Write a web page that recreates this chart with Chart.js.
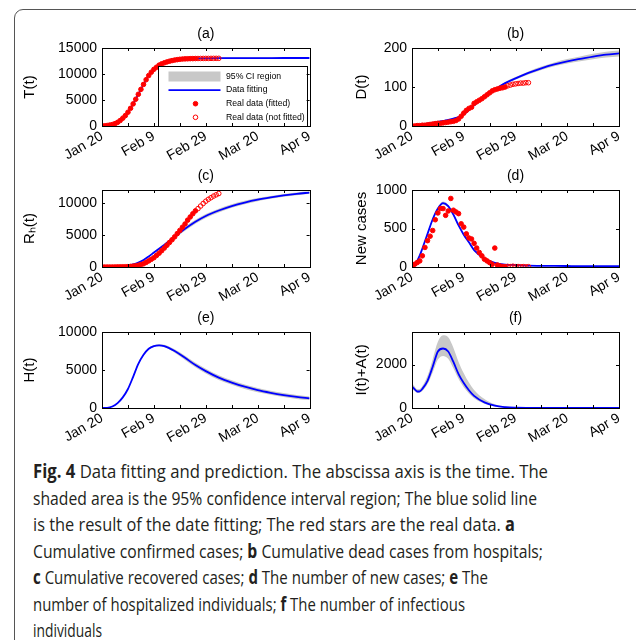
<!DOCTYPE html>
<html>
<head>
<meta charset="UTF-8">
<title>Fig. 4 Data fitting and prediction</title>
<script src="https://cdn.jsdelivr.net/npm/chart.js@4.4.1/dist/chart.umd.min.js"></script>
<style>
  body { margin: 0; width: 636px; height: 640px; overflow: hidden; position: relative; background: #fff; }
  .frame { position: absolute; left: 14px; top: 9px; width: 700px; height: 700px; border: 1px solid #555; border-radius: 9px; }
  canvas { position: absolute; }
  #caption { position: absolute; left: 33px; top: 458px; white-space: nowrap;
    font-family: "Open Sans", "Noto Sans", sans-serif; font-size: 19px; line-height: 26.5px; color: #231f20; }
  #caption span { display: inline-block; transform-origin: 0 0; }
  #caption b { font-weight: 700; }
</style>
</head>
<body>
<div class="frame"></div>
<canvas id="pa" width="306" height="141" style="left:14px;top:20px"></canvas>
<canvas id="pb" width="300" height="141" style="left:330px;top:20px"></canvas>
<canvas id="pc" width="306" height="140" style="left:14px;top:162px"></canvas>
<canvas id="pd" width="300" height="140" style="left:330px;top:162px"></canvas>
<canvas id="pe" width="306" height="139" style="left:14px;top:304px"></canvas>
<canvas id="pf" width="300" height="139" style="left:330px;top:304px"></canvas>
<div id="caption">
<div><span><b>Fig. 4</b> Data fitting and prediction. The abscissa axis is the time. The</span></div>
<div><span>shaded area is the 95% confidence interval region; The blue solid line</span></div>
<div><span>is the result of the date fitting; The red stars are the real data. <b>a</b></span></div>
<div><span>Cumulative confirmed cases; <b>b</b> Cumulative dead cases from hospitals;</span></div>
<div><span><b>c</b> Cumulative recovered cases; <b>d</b> The number of new cases; <b>e</b> The</span></div>
<div><span>number of hospitalized individuals; <b>f</b> The number of infectious</span></div>
<div><span>individuals</span></div>
</div>
<script>
// days since Jan 20
const dateLabels = ['Jan 20', 'Feb 9', 'Feb 29', 'Mar 20', 'Apr 9'];
const labelDays = [0, 20, 40, 60, 80];
const xTickDays = [0, 10, 20, 30, 40, 50, 60, 70, 80];
const fitDays = [0, 1, 2, 3, 4, 6, 8, 10, 12, 14, 16, 18, 20, 22, 24, 28, 32, 36, 40, 45, 50, 55, 60, 65, 70, 75, 80];
const fittedDays = [0, 1, 2, 3, 4, 5, 6, 7, 8, 9, 10, 11, 12, 13, 14, 15, 16, 17, 18, 19, 20, 21, 22, 23, 24, 25, 26, 27, 28, 29, 30, 31, 32, 33, 34, 35, 36];
const notFittedDays = [37, 38, 39, 40, 41, 42, 43, 44, 45];

// (a) cumulative confirmed
const tTicks = [0, 5000, 10000, 15000];
const tReal = [0, 40, 100, 180, 280, 450, 700, 1050, 1500, 2000, 2650, 3400, 4250, 5150, 6100, 7050, 8000, 8900, 9700, 10350, 10900, 11300, 11700, 11950, 12150, 12320, 12460, 12580, 12680, 12760, 12830, 12880, 12910, 12930, 12950, 12960, 12970];
const tLate = [12980, 12985, 12990, 12995, 13000, 13005, 13010, 13010, 13015];
const tFit = [0, 40, 100, 180, 290, 700, 1480, 2650, 4250, 6100, 8000, 9700, 10900, 11700, 12150, 12680, 12910, 12980, 13010, 13040, 13050, 13060, 13065, 13070, 13075, 13078, 13080];
const tLow = [0, 38, 96, 172, 278, 680, 1450, 2600, 4180, 6010, 7890, 9580, 10770, 11560, 12010, 12530, 12760, 12830, 12860, 12890, 12900, 12910, 12915, 12920, 12925, 12928, 12930];
const tHigh = [0, 42, 104, 188, 302, 720, 1510, 2700, 4320, 6190, 8110, 9820, 11030, 11840, 12290, 12830, 13060, 13130, 13160, 13190, 13200, 13210, 13215, 13220, 13225, 13228, 13230];

// (b) cumulative dead
const dTicks = [0, 100, 200];
const dReal = [0, 0, 1, 1, 2, 2, 3, 4, 5, 6, 7, 7, 8, 9, 10, 11, 12, 14, 18, 25, 33, 40, 45, 48, 58, 62, 66, 70, 75, 80, 85, 90, 93, 95, 97, 98, 100];
const dLate = [103, 105, 107, 108, 109, 110, 110, 111, 111];
const dFit = [0, 1, 2, 3, 4, 6, 8, 10.5, 13, 15.5, 19, 23, 30, 41, 53, 74, 93, 110, 122, 136, 148, 158, 166, 172, 178, 183, 186];
const dLow = [0, 1, 2, 3, 4, 5.8, 7.8, 10.2, 12.6, 15, 18.4, 22.3, 29, 39.8, 51.5, 72, 90.5, 107, 118.5, 132, 143.5, 153, 160.5, 166, 171, 175.5, 178.5];
const dHigh = [0, 1, 2, 3, 4, 6.2, 8.2, 10.8, 13.4, 16, 19.6, 23.7, 31, 42.2, 54.5, 76, 95.5, 113, 125.5, 140, 152.5, 163, 171.5, 178, 185, 190.5, 193.5];

// (c) cumulative recovered
const rTicks = [0, 5000, 10000];
const rReal = [0, 0, 0, 0, 5, 10, 15, 20, 30, 40, 60, 90, 130, 180, 270, 380, 500, 720, 950, 1200, 1450, 1800, 2150, 2550, 2950, 3380, 3820, 4250, 4700, 5200, 5700, 6200, 6700, 7300, 7800, 8300, 8750];
const rLate = [9100, 9500, 9900, 10250, 10550, 10800, 11050, 11250, 11450];
const rFit = [0, 2, 5, 10, 20, 50, 110, 230, 420, 700, 1100, 1650, 2250, 2850, 3450, 4700, 5950, 7050, 7950, 8800, 9500, 10050, 10500, 10850, 11150, 11400, 11600];
const rLow = [0, 2, 5, 10, 20, 48, 105, 220, 390, 650, 1020, 1540, 2110, 2680, 3250, 4440, 5650, 6750, 7650, 8510, 9220, 9790, 10260, 10630, 10940, 11200, 11410];
const rHigh = [0, 2, 5, 10, 20, 52, 115, 240, 450, 750, 1180, 1760, 2390, 3020, 3650, 4960, 6250, 7350, 8250, 9090, 9780, 10310, 10740, 11070, 11360, 11600, 11790];

// (d) new cases
const nTicks = [0, 500, 1000];
const nReal = [13, 35, 57, 79, 145, 254, 342, 400, 474, 614, 702, 759, 759, 671, 728, 890, 737, 715, 693, 561, 518, 430, 377, 364, 307, 246, 189, 145, 101, 79, 57, 35, 246, 26, 13, 5, 3];
const nLate = [8, 5, 10, 4, 6, 3, 5, 2, 4];
const nFit = [0, 35, 80, 150, 240, 430, 620, 760, 830, 790, 680, 540, 420, 320, 220, 110, 55, 32, 25, 18, 15, 14, 13, 12, 12, 11, 11];
const nLow = [0, 33, 76, 143, 230, 415, 600, 740, 810, 770, 660, 522, 403, 305, 208, 102, 49, 26, 22, 15, 13, 12, 11, 10, 10, 9, 9];
const nHigh = [0, 37, 84, 157, 250, 445, 640, 780, 850, 810, 700, 558, 437, 335, 232, 118, 61, 34, 28, 21, 17, 16, 15, 14, 14, 13, 13];

// (e) hospitalized
const hTicks = [0, 5000, 10000];
const hFit = [0, 10, 30, 90, 200, 650, 1400, 2500, 4100, 5800, 7000, 7800, 8150, 8250, 8150, 7500, 6600, 5650, 4850, 4000, 3350, 2800, 2350, 2000, 1700, 1450, 1280];
const hLow = [0, 10, 30, 90, 195, 640, 1380, 2470, 4050, 5730, 6910, 7690, 8030, 8110, 7990, 7280, 6330, 5350, 4540, 3690, 3050, 2510, 2070, 1730, 1440, 1200, 1040];
const hHigh = [0, 10, 30, 90, 205, 660, 1420, 2530, 4150, 5870, 7090, 7910, 8270, 8390, 8310, 7720, 6870, 5950, 5160, 4310, 3650, 3090, 2630, 2270, 1960, 1700, 1520];

// (f) infectious I+A
const iTicks = [0, 2000];
const iFit = [1000, 870, 760, 770, 880, 1250, 1900, 2600, 2740, 2600, 2120, 1560, 1150, 820, 560, 260, 105, 40, 15, 5, 2, 1, 0, 0, 0, 0, 0];
const iLow = [870, 780, 690, 700, 780, 1100, 1640, 2230, 2400, 2270, 1830, 1330, 960, 670, 450, 200, 75, 27, 9, 3, 1, 0, 0, 0, 0, 0, 0];
const iHigh = [1150, 990, 860, 880, 1010, 1480, 2250, 3050, 3350, 3260, 2780, 2120, 1600, 1170, 830, 410, 175, 72, 28, 9, 3, 1, 0, 0, 0, 0, 0];

Chart.defaults.font.family = '"Liberation Sans", Arial, Helvetica, sans-serif';
Chart.defaults.color = '#000';

const gray = 'rgb(200,200,200)';
const leftCol = { yWidth: 88, right: 10, titlePad: 7 };
const rightCol = { yWidth: 82, right: 11, titlePad: 23 };

function pts(xs, ys) {
    return xs.map((x, i) => ({ x: x, y: ys[i] }));
}

// box round the axes with inward ticks, like matlab
const matlabAxes = {
    id: 'matlabAxes',
    afterDraw(chart) {
        const { ctx, chartArea: a, scales: { x, y } } = chart;
        const tl = 3;
        ctx.save();
        ctx.strokeStyle = '#000';
        ctx.lineWidth = 1;
        ctx.beginPath();
        x.ticks.forEach(t => {
            const px = Math.round(x.getPixelForValue(t.value)) + 0.5;
            ctx.moveTo(px, a.bottom); ctx.lineTo(px, a.bottom - tl);
            ctx.moveTo(px, a.top); ctx.lineTo(px, a.top + tl);
        });
        y.ticks.forEach(t => {
            const py = Math.round(y.getPixelForValue(t.value)) + 0.5;
            ctx.moveTo(a.left, py); ctx.lineTo(a.left + tl, py);
            ctx.moveTo(a.right, py); ctx.lineTo(a.right - tl, py);
        });
        ctx.stroke();
        ctx.strokeRect(Math.round(a.left) + 0.5, Math.round(a.top) + 0.5,
            Math.round(a.right - a.left), Math.round(a.bottom - a.top));
        ctx.restore();
    }
};

// legend box of panel (a)
const ciLegend = {
    id: 'ciLegend',
    afterDatasetsDraw(chart) {
        const { ctx, chartArea: a } = chart;
        const sets = chart.data.datasets;
        const x0 = Math.round(a.left + 56) + 0.5, y0 = Math.round(a.top + 18) + 0.5;
        const x1 = Math.round(a.right - 3) + 0.5, y1 = Math.round(a.bottom) + 0.5;
        ctx.save();
        ctx.fillStyle = '#fff';
        ctx.fillRect(x0, y0, x1 - x0, y1 - y0);
        ctx.strokeStyle = '#000';
        ctx.lineWidth = 1;
        ctx.strokeRect(x0, y0, x1 - x0, y1 - y0);
        const order = ['95% CI region', 'Data fitting', 'Real data (fitted)', 'Real data (not fitted)'];
        ctx.font = '8.7px "Liberation Sans", Arial, sans-serif';
        ctx.textBaseline = 'middle';
        order.forEach((label, k) => {
            const ds = sets.find(d => d.label === label);
            const cy = y0 + 10 + k * 13.6;
            const sx = x0 + 10, ex = x0 + 62, mx = x0 + 37;
            if (k === 0) {
                ctx.fillStyle = ds.backgroundColor;
                ctx.fillRect(sx, cy - 5, ex - sx, 10);
            } else if (k === 1) {
                ctx.strokeStyle = ds.borderColor;
                ctx.lineWidth = ds.borderWidth;
                ctx.beginPath(); ctx.moveTo(sx, cy); ctx.lineTo(ex, cy); ctx.stroke();
            } else {
                ctx.beginPath();
                ctx.arc(mx, cy, ds.pointRadius, 0, Math.PI * 2);
                ctx.fillStyle = ds.pointBackgroundColor;
                ctx.fill();
                ctx.strokeStyle = ds.pointBorderColor;
                ctx.lineWidth = ds.pointBorderWidth;
                ctx.stroke();
            }
            ctx.fillStyle = '#000';
            ctx.fillText(label, x0 + 67.5, cy);
        });
        ctx.restore();
    }
};

function panel(id, col, p) {
    const ds = [];
    if (p.real) {
        ds.push({ label: 'Real data (fitted)', data: pts(fittedDays, p.real), showLine: false,
            pointRadius: 2.3, pointBackgroundColor: 'red', pointBorderColor: 'red', pointBorderWidth: 1 });
        ds.push({ label: 'Real data (not fitted)', data: pts(notFittedDays, p.late), showLine: false,
            pointRadius: 2.3, pointBackgroundColor: 'rgba(255,255,255,0)', pointBorderColor: 'red', pointBorderWidth: 1 });
    }
    ds.push({ label: 'Data fitting', data: pts(fitDays, p.fit), borderColor: 'blue', borderWidth: 1.8,
        pointRadius: 0, cubicInterpolationMode: 'monotone', fill: false });
    ds.push({ label: '95% CI region', data: pts(fitDays, p.high), borderColor: 'rgba(0,0,0,0)', borderWidth: 1,
        backgroundColor: gray, pointRadius: 0, cubicInterpolationMode: 'monotone', fill: '+1' });
    ds.push({ label: 'CI low', data: pts(fitDays, p.low), borderColor: 'rgba(0,0,0,0)', borderWidth: 1,
        pointRadius: 0, cubicInterpolationMode: 'monotone', fill: false });

    return new Chart(document.getElementById(id), {
        type: 'line',
        data: { datasets: ds },
        options: {
            responsive: false,
            animation: false,
            devicePixelRatio: 1,
            layout: { padding: { left: 0, right: col.right, top: 0, bottom: 0 } },
            plugins: {
                legend: { display: false },
                tooltip: { enabled: false },
                title: { display: true, text: p.title, fullSize: false, color: '#000',
                    font: { size: 14, weight: 'normal' }, padding: { top: 6, bottom: 5.2 } }
            },
            scales: {
                x: {
                    type: 'linear', min: 0, max: 80,
                    grid: { display: false, drawTicks: false },
                    border: { display: false },
                    afterBuildTicks: s => { s.ticks = xTickDays.map(v => ({ value: v })); },
                    ticks: {
                        autoSkip: false, maxRotation: 30, minRotation: 30, padding: 2,
                        color: '#000', font: { size: 14 },
                        callback: v => {
                            const i = labelDays.indexOf(v);
                            return i >= 0 ? dateLabels[i] : '';
                        }
                    },
                    afterFit: s => { s.height = 35; }
                },
                y: {
                    min: 0, max: p.max,
                    grid: { display: false, drawTicks: false },
                    border: { display: false },
                    afterBuildTicks: s => { s.ticks = p.yTicks.map(v => ({ value: v })); },
                    ticks: { padding: 5, color: '#000', font: { size: 14 }, callback: v => String(v) },
                    title: { display: true, text: p.ylabel, color: '#000', font: { size: 15 },
                        padding: { top: col.titlePad, bottom: 0 } },
                    afterFit: s => { s.width = col.yWidth; }
                }
            }
        },
        plugins: p.legend ? [matlabAxes, ciLegend] : [matlabAxes]
    });
}

panel('pa', leftCol, { title: '(a)', ylabel: 'T(t)', max: 15000, yTicks: tTicks,
    real: tReal, late: tLate, fit: tFit, low: tLow, high: tHigh, legend: true });
panel('pb', rightCol, { title: '(b)', ylabel: 'D(t)', max: 200, yTicks: dTicks,
    real: dReal, late: dLate, fit: dFit, low: dLow, high: dHigh });
panel('pc', leftCol, { title: '(c)', ylabel: 'R\u2095(t)', max: 12000, yTicks: rTicks,
    real: rReal, late: rLate, fit: rFit, low: rLow, high: rHigh });
panel('pd', rightCol, { title: '(d)', ylabel: 'New cases', max: 1000, yTicks: nTicks,
    real: nReal, late: nLate, fit: nFit, low: nLow, high: nHigh });
panel('pe', leftCol, { title: '(e)', ylabel: 'H(t)', max: 10000, yTicks: hTicks,
    fit: hFit, low: hLow, high: hHigh });
panel('pf', rightCol, { title: '(f)', ylabel: 'I(t)+A(t)', max: 3500, yTicks: iTicks,
    fit: iFit, low: iLow, high: iHigh });

// squeeze each caption line to the width of the printed one
const captionWidths = [515, 504, 482, 510, 455, 432, 69];
document.fonts.ready.then(() => {
    document.querySelectorAll('#caption span').forEach((sp, i) => {
        const w = sp.getBoundingClientRect().width;
        sp.style.transform = 'scaleX(' + (captionWidths[i] / w) + ')';
    });
});
</script>
</body>
</html>
